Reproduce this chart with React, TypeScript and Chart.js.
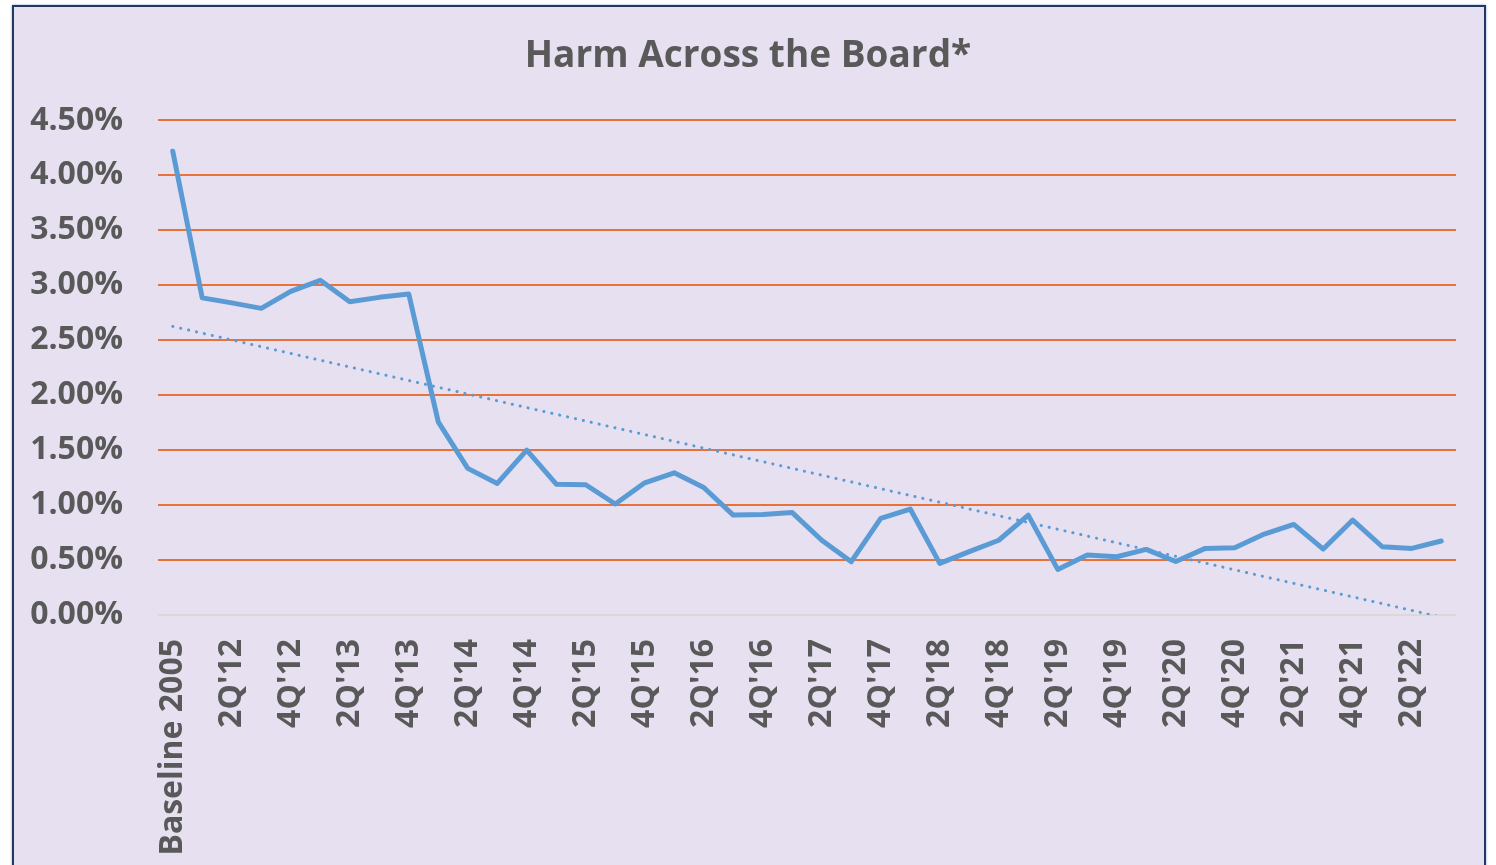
import React, { useEffect, useRef } from 'react';
import { Chart, registerables } from 'chart.js';

Chart.register(...registerables);

const chartTitle = 'Harm Across the Board*';

const categories: string[] = [
  'Baseline 2005',
  "1Q'12", "2Q'12", "3Q'12", "4Q'12",
  "1Q'13", "2Q'13", "3Q'13", "4Q'13",
  "1Q'14", "2Q'14", "3Q'14", "4Q'14",
  "1Q'15", "2Q'15", "3Q'15", "4Q'15",
  "1Q'16", "2Q'16", "3Q'16", "4Q'16",
  "1Q'17", "2Q'17", "3Q'17", "4Q'17",
  "1Q'18", "2Q'18", "3Q'18", "4Q'18",
  "1Q'19", "2Q'19", "3Q'19", "4Q'19",
  "1Q'20", "2Q'20", "3Q'20", "4Q'20",
  "1Q'21", "2Q'21", "3Q'21", "4Q'21",
  "1Q'22", "2Q'22", "3Q'22",
];

// Harm rate in percent
const harmRate: number[] = [
  4.22,
  2.885, 2.84, 2.79, 2.945,
  3.045, 2.85, 2.89, 2.92,
  1.757, 1.334, 1.197, 1.5,
  1.19, 1.185, 1.01, 1.203,
  1.294, 1.16, 0.909, 0.915,
  0.932, 0.68, 0.485, 0.879,
  0.964, 0.47, 0.576, 0.68,
  0.909, 0.415, 0.545, 0.53,
  0.597, 0.487, 0.606, 0.612,
  0.736, 0.824, 0.6, 0.864,
  0.621, 0.606, 0.673,
];

const yMin = 0;
const yMax = 4.5;
const yStep = 0.5;

// Linear (least-squares) trendline of the harm series, as Excel draws it
function linearTrend(values: number[]): number[] {
  const n = values.length;
  let sx = 0, sy = 0, sxx = 0, sxy = 0;
  values.forEach((v, i) => {
    sx += i; sy += v; sxx += i * i; sxy += i * v;
  });
  const b = (n * sxy - sx * sy) / (n * sxx - sx * sx);
  const a = (sy - b * sx) / n;
  return values.map((_, i) => a + b * i);
}

const trendValues = linearTrend(harmRate);

const FONT = "'Open Sans', 'Noto Sans', sans-serif";
const TEXT_COLOR = '#595959';

export default function App() {
  const canvasRef = useRef<HTMLCanvasElement | null>(null);

  useEffect(() => {
    if (!canvasRef.current) return;
    const chart = new Chart(canvasRef.current, {
      type: 'line',
      data: {
        labels: categories,
        datasets: [
          {
            label: 'Harm',
            data: harmRate,
            borderColor: '#5B9BD5',
            borderWidth: 5,
            borderJoinStyle: 'round',
            borderCapStyle: 'round',
            pointRadius: 0,
            tension: 0,
            fill: false,
            order: 1,
          },
          {
            label: 'Linear (Harm)',
            data: trendValues,
            borderColor: '#5B9BD5',
            borderWidth: 3,
            borderDash: [0.1, 8],
            borderCapStyle: 'round',
            pointRadius: 0,
            tension: 0,
            fill: false,
            clip: 0,
            order: 0,
          },
        ],
      },
      options: {
        responsive: false,
        animation: false,
        devicePixelRatio: 1,
        layout: { padding: { left: 0, right: 0, top: 0, bottom: 0 } },
        plugins: {
          legend: { display: false },
          tooltip: { enabled: false },
          title: {
            display: true,
            text: chartTitle,
            color: TEXT_COLOR,
            font: { family: FONT, size: 37, weight: 'bold', lineHeight: 1.2 },
            padding: { top: 34, bottom: 42 },
          },
        },
        scales: {
          x: {
            offset: true,
            grid: { display: false, drawTicks: false },
            border: { display: false },
            afterFit: (scale: any) => {
              scale.height = 250;
              scale.paddingLeft = 0;
              scale.paddingRight = 40;
            },
            ticks: {
              autoSkip: false,
              maxRotation: 90,
              minRotation: 90,
              padding: 24,
              color: TEXT_COLOR,
              font: { family: FONT, size: 32, weight: 'bold' },
              callback: function (this: any, _v: any, index: number) {
                return index % 2 === 0 ? categories[index] : '';
              },
            },
          },
          y: {
            min: yMin,
            max: yMax,
            grid: {
              drawTicks: false,
              lineWidth: 2,
              color: (ctx: any) => (ctx.tick && ctx.tick.value === 0 ? '#D9D9D9' : '#E8733A'),
            },
            border: { display: false },
            afterFit: (scale: any) => { scale.width = 158; },
            ticks: {
              stepSize: yStep,
              padding: 35,
              color: TEXT_COLOR,
              font: { family: FONT, size: 32, weight: 'bold' },
              callback: (v: any) => Number(v).toFixed(2) + '%',
            },
          },
        },
      },
    });
    return () => chart.destroy();
  }, []);

  return (
    <div style={{ position: 'fixed', inset: 0, overflow: 'hidden', background: '#ffffff' }}>
      <div
        style={{
          position: 'absolute',
          left: 12,
          top: 5,
          width: 1474,
          height: 900,
          boxSizing: 'border-box',
          border: '2px solid #1F3864',
          boxShadow: '0 0 2px rgba(90,110,170,0.7)',
          background: '#E6E0F1',
        }}
      />
      <canvas
        ref={canvasRef}
        width={1496}
        height={865}
        style={{ position: 'absolute', left: 0, top: 0, width: 1496, height: 865 }}
      />
    </div>
  );
}
